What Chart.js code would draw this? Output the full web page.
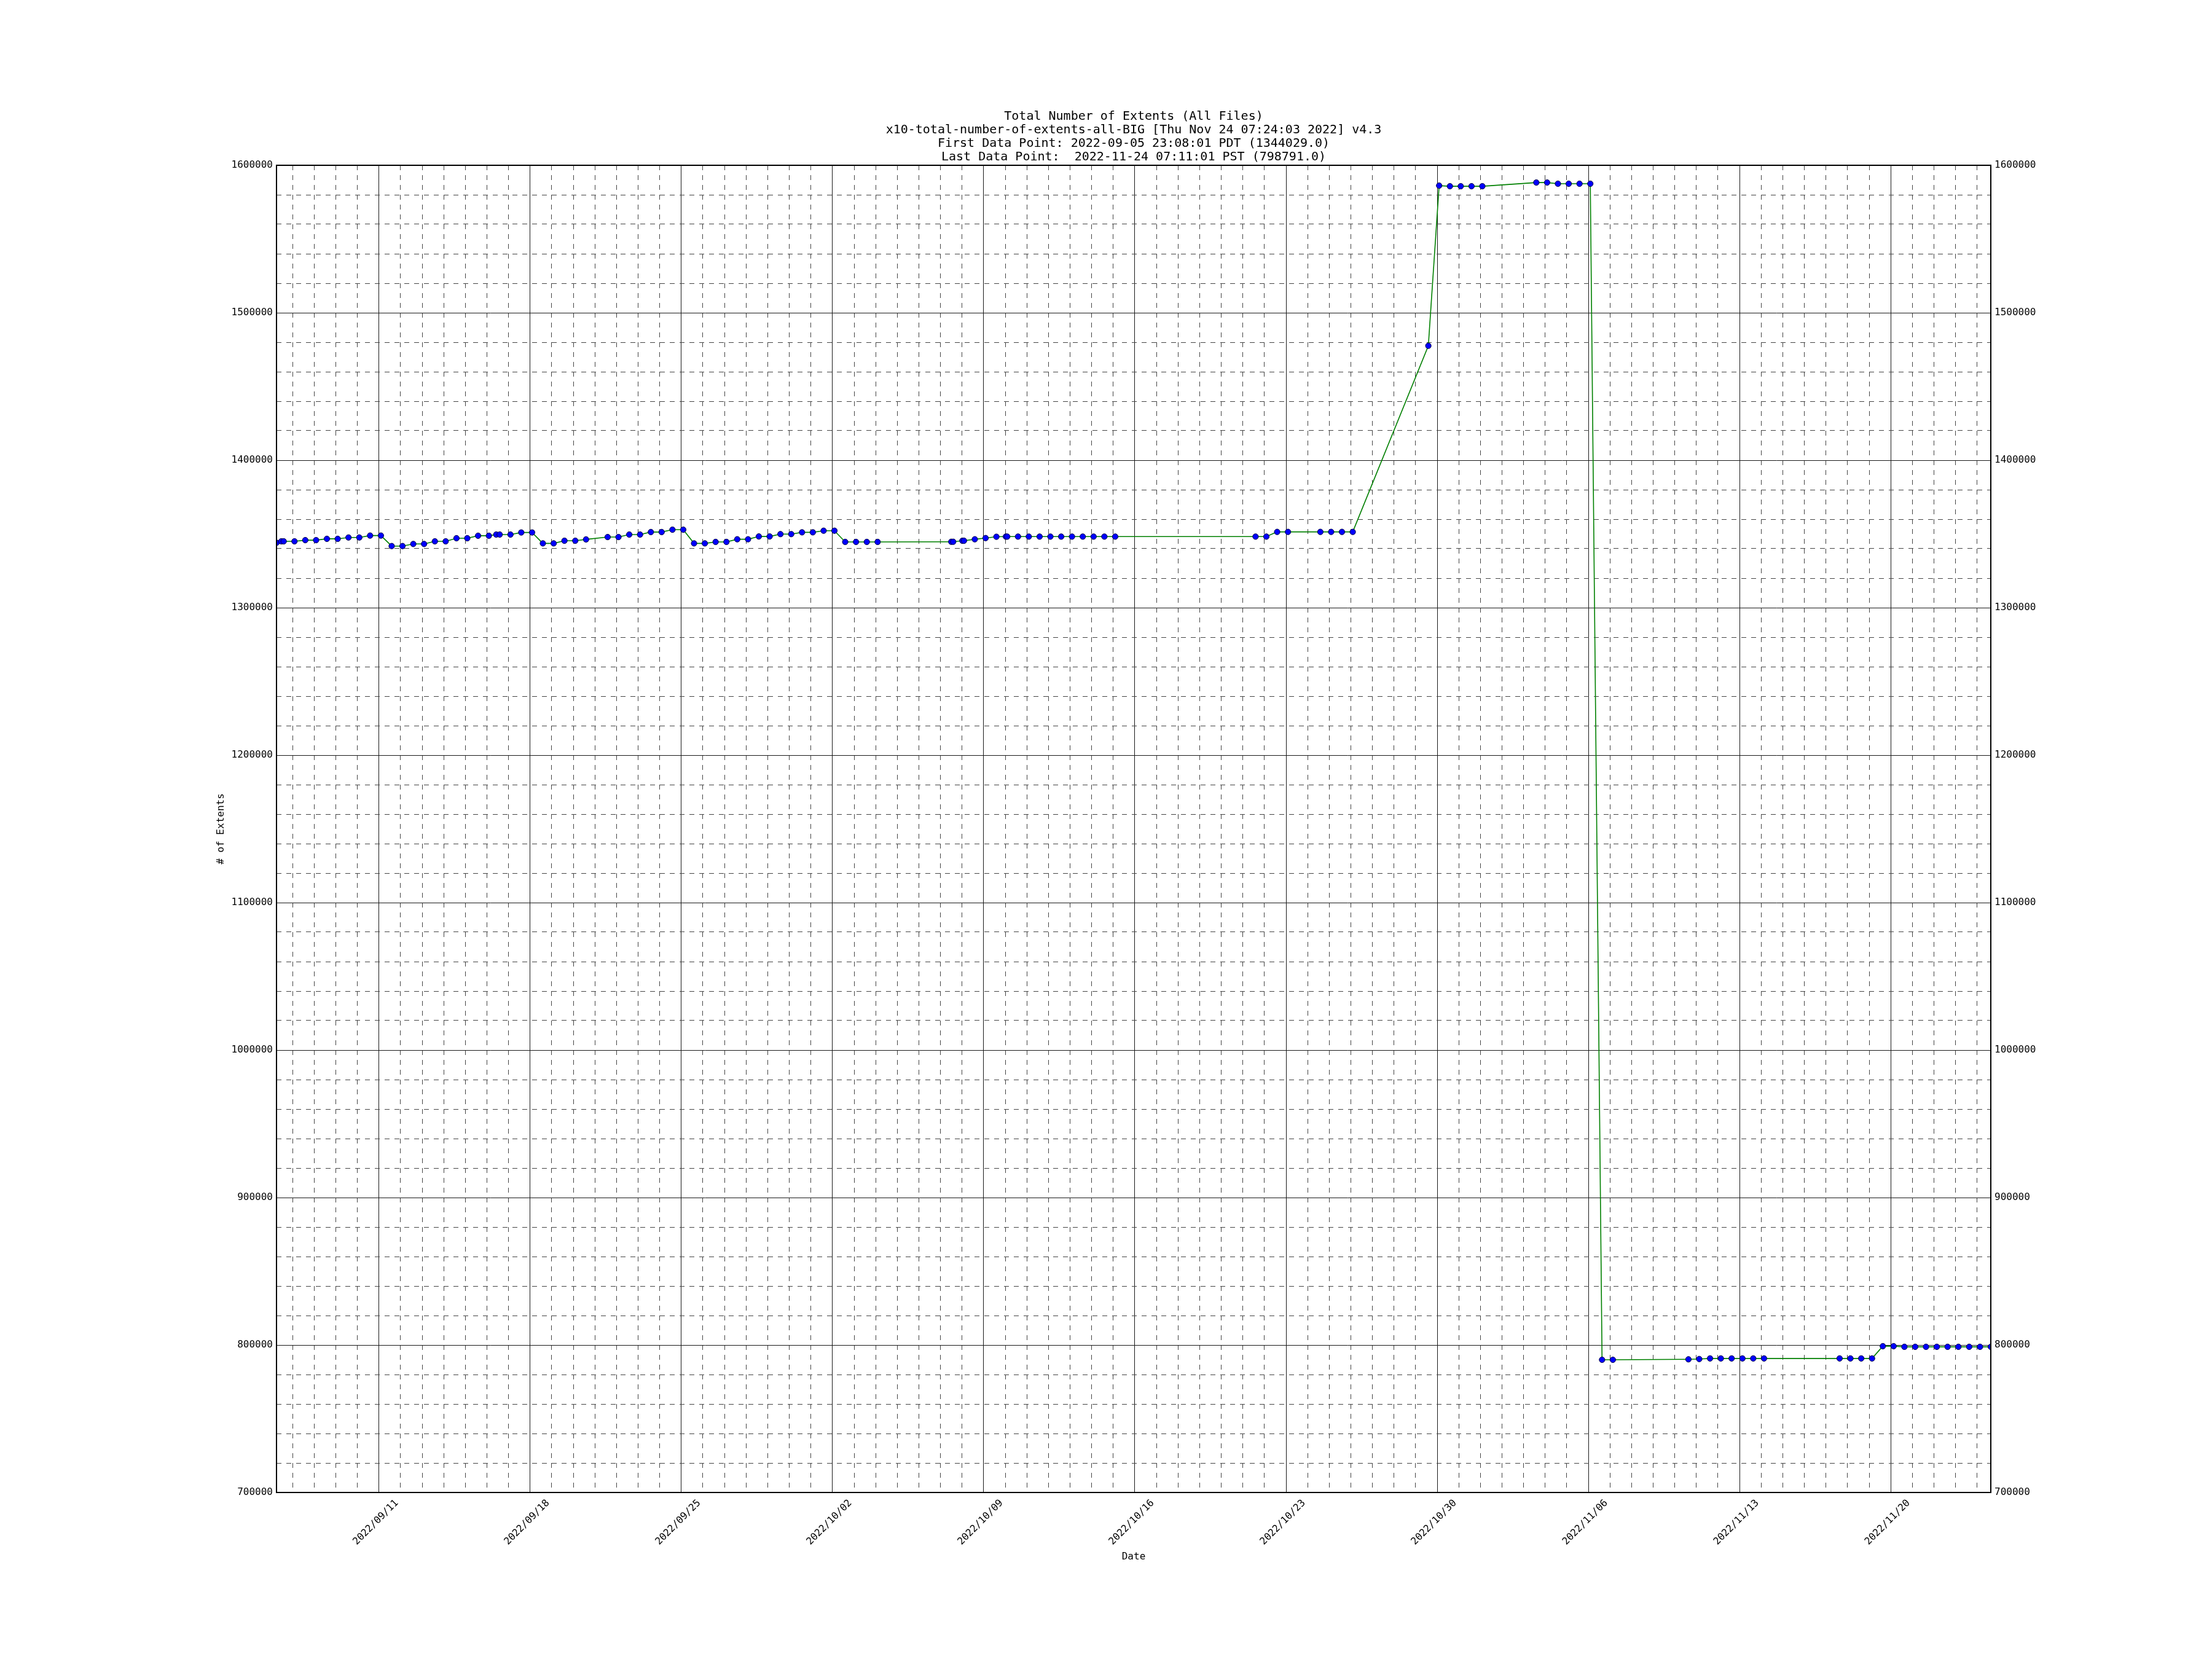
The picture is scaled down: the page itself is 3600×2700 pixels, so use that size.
<!DOCTYPE html>
<html>
<head>
<meta charset="utf-8">
<script src="https://cdn.jsdelivr.net/npm/chart.js@4.4.1/dist/chart.umd.min.js"></script>
<style>
html, body { margin: 0; padding: 0; background: #ffffff; }
canvas { display: block; }
</style>
</head>
<body>
<canvas id="c" width="3600" height="2700"></canvas>
<script>
// ---------------- data ----------------
const titleLines = [
  'Total Number of Extents (All Files)',
  'x10-total-number-of-extents-all-BIG [Thu Nov 24 07:24:03 2022] v4.3',
  'First Data Point: 2022-09-05 23:08:01 PDT (1344029.0)',
  'Last Data Point:  2022-11-24 07:11:01 PST (798791.0)'
];

const sampleTimes = [
  '2022-09-06T06:08:01Z','2022-09-06T11:30:00Z','2022-09-06T14:08:00Z','2022-09-07T02:08:00Z',
  '2022-09-07T14:08:00Z','2022-09-08T02:08:00Z','2022-09-08T14:08:00Z','2022-09-09T02:08:00Z',
  '2022-09-09T14:08:00Z','2022-09-10T02:08:00Z','2022-09-10T14:08:00Z','2022-09-11T02:08:00Z',
  '2022-09-11T14:08:00Z','2022-09-12T02:08:00Z','2022-09-12T14:08:00Z','2022-09-13T02:08:00Z',
  '2022-09-13T14:08:00Z','2022-09-14T02:08:00Z','2022-09-14T14:08:00Z','2022-09-15T02:08:00Z',
  '2022-09-15T14:08:00Z','2022-09-16T02:08:00Z','2022-09-16T10:20:00Z','2022-09-16T14:08:00Z',
  '2022-09-17T02:08:00Z','2022-09-17T14:08:00Z','2022-09-18T02:08:00Z','2022-09-18T14:08:00Z',
  '2022-09-19T02:08:00Z','2022-09-19T14:08:00Z','2022-09-20T02:08:00Z','2022-09-20T14:08:00Z',
  '2022-09-21T14:08:00Z','2022-09-22T02:08:00Z','2022-09-22T14:08:00Z','2022-09-23T02:08:00Z',
  '2022-09-23T14:08:00Z','2022-09-24T02:08:00Z','2022-09-24T14:08:00Z','2022-09-25T02:08:00Z',
  '2022-09-25T14:08:00Z','2022-09-26T02:08:00Z','2022-09-26T14:08:00Z','2022-09-27T02:08:00Z',
  '2022-09-27T14:08:00Z','2022-09-28T02:08:00Z','2022-09-28T14:08:00Z','2022-09-29T02:08:00Z',
  '2022-09-29T14:08:00Z','2022-09-30T02:08:00Z','2022-09-30T14:08:00Z','2022-10-01T02:08:00Z',
  '2022-10-01T14:08:00Z','2022-10-02T02:08:00Z','2022-10-02T14:08:00Z','2022-10-03T02:08:00Z',
  '2022-10-03T14:08:00Z','2022-10-04T02:08:00Z','2022-10-07T12:00:00Z','2022-10-07T14:08:00Z',
  '2022-10-08T00:20:00Z','2022-10-08T02:08:00Z','2022-10-08T14:08:00Z','2022-10-09T02:08:00Z',
  '2022-10-09T14:08:00Z','2022-10-10T00:40:00Z','2022-10-10T02:08:00Z','2022-10-10T14:08:00Z',
  '2022-10-11T02:08:00Z','2022-10-11T14:08:00Z','2022-10-12T02:08:00Z','2022-10-12T14:08:00Z',
  '2022-10-13T02:08:00Z','2022-10-13T14:08:00Z','2022-10-14T02:08:00Z','2022-10-14T14:08:00Z',
  '2022-10-15T02:08:00Z','2022-10-21T14:08:00Z','2022-10-22T02:08:00Z','2022-10-22T14:08:00Z',
  '2022-10-23T02:08:00Z','2022-10-24T14:08:00Z','2022-10-25T02:08:00Z','2022-10-25T14:08:00Z',
  '2022-10-26T02:08:00Z','2022-10-29T14:08:00Z','2022-10-30T02:08:00Z','2022-10-30T14:08:00Z',
  '2022-10-31T02:08:00Z','2022-10-31T14:08:00Z','2022-11-01T02:08:00Z','2022-11-03T14:08:00Z',
  '2022-11-04T02:08:00Z','2022-11-04T14:08:00Z','2022-11-05T02:08:00Z','2022-11-05T14:08:00Z',
  '2022-11-06T02:08:00Z','2022-11-06T15:11:00Z','2022-11-07T03:11:00Z','2022-11-10T15:11:00Z',
  '2022-11-11T03:11:00Z','2022-11-11T15:11:00Z','2022-11-12T03:11:00Z','2022-11-12T15:11:00Z',
  '2022-11-13T03:11:00Z','2022-11-13T15:11:00Z','2022-11-14T03:11:00Z','2022-11-17T15:11:00Z',
  '2022-11-18T03:11:00Z','2022-11-18T15:11:00Z','2022-11-19T03:11:00Z','2022-11-19T15:11:00Z',
  '2022-11-20T03:11:00Z','2022-11-20T15:11:00Z','2022-11-21T03:11:00Z','2022-11-21T15:11:00Z',
  '2022-11-22T03:11:00Z','2022-11-22T15:11:00Z','2022-11-23T03:11:00Z','2022-11-23T15:11:00Z',
  '2022-11-24T03:11:00Z','2022-11-24T15:11:01Z'
];

const extentCounts = [
  1344029,1345000,1345000,1345000,
  1345800,1345800,1346700,1346700,
  1347600,1347600,1348900,1348900,
  1341800,1341800,1343200,1343200,
  1345000,1345000,1347100,1347100,
  1348800,1348800,1349600,1349600,
  1349600,1351000,1351000,1343600,
  1343600,1345400,1345400,1346300,
  1347900,1347900,1349600,1349600,
  1351300,1351300,1352900,1352900,
  1343600,1343600,1344600,1344600,
  1346400,1346400,1348300,1348300,
  1349900,1349900,1351100,1351100,
  1352200,1352200,1344600,1344600,
  1344600,1344600,1344700,1344700,
  1345400,1345400,1346400,1347200,
  1348100,1348200,1348200,1348200,
  1348200,1348200,1348200,1348200,
  1348200,1348200,1348200,1348200,
  1348200,1348200,1348200,1351400,
  1351400,1351400,1351400,1351400,
  1351400,1477600,1586200,1585800,
  1585800,1585800,1585800,1588300,
  1588300,1587500,1587500,1587500,
  1587500,790000,790000,790300,
  790500,790900,790900,790900,
  790900,790900,790900,790900,
  790900,790900,790900,799200,
  799200,798800,798800,798800,
  798800,798800,798800,798800,
  798800,798791
];

const weekTickDates = ['2022-09-11','2022-09-18','2022-09-25','2022-10-02','2022-10-09','2022-10-16',
                       '2022-10-23','2022-10-30','2022-11-06','2022-11-13','2022-11-20'];
const weekTickLabels = ['2022/09/11','2022/09/18','2022/09/25','2022/10/02','2022/10/09','2022/10/16',
                        '2022/10/23','2022/10/30','2022/11/06','2022/11/13','2022/11/20'];
const yTickValues = [700000,800000,900000,1000000,1100000,1200000,1300000,1400000,1500000,1600000];
const yMinorStep = 20000;
const xAxisTitle = 'Date';
const yAxisTitle = '# of Extents';

// ---------------- layout / style ----------------
const FONT = "'DejaVu Sans Mono', monospace";
const PLOT = { left: 450, right: 3240, top: 269, bottom: 2429 };
const DAY = 86400000;

const xs = sampleTimes.map(t => Date.parse(t));
const points = xs.map((x, i) => ({ x: x, y: extentCounts[i] }));
const xMin = xs[0], xMax = xs[xs.length - 1];
const yMin = yTickValues[0], yMax = yTickValues[yTickValues.length - 1];
const weekMs = weekTickDates.map(d => Date.parse(d + 'T00:00:00Z'));

const framePlugin = {
  id: 'frame',
  afterDraw(chart) {
    const a = chart.chartArea, ctx = chart.ctx;
    ctx.save();
    ctx.strokeStyle = '#000';
    ctx.lineWidth = 2;
    ctx.strokeRect(a.left, a.top, a.right - a.left, a.bottom - a.top);
    ctx.restore();
  }
};

const tickFont = { family: FONT, size: 16 };

new Chart(document.getElementById('c'), {
  type: 'line',
  data: {
    datasets: [{
      data: points,
      xAxisID: 'x',
      yAxisID: 'y',
      borderColor: '#008000',
      borderWidth: 1.6,
      pointRadius: 4.6,
      pointBackgroundColor: '#0000ff',
      pointBorderColor: '#000040',
      pointBorderWidth: 1,
      tension: 0,
      fill: false
    }]
  },
  options: {
    responsive: false,
    maintainAspectRatio: false,
    animation: false,
    devicePixelRatio: 1,
    layout: { padding: 0 },
    plugins: {
      legend: { display: false },
      tooltip: { enabled: false },
      title: {
        display: true,
        text: titleLines,
        fullSize: false,
        color: '#000',
        font: { family: FONT, size: 20, lineHeight: 1.1, weight: 'normal' },
        padding: { top: 179, bottom: 2 }
      }
    },
    scales: {
      xm: {
        type: 'linear', position: 'bottom', min: xMin, max: xMax,
        afterBuildTicks: s => {
          const t = [];
          for (let v = Math.ceil(xMin / DAY) * DAY; v <= xMax; v += DAY) {
            if (!weekMs.includes(v)) t.push({ value: v });
          }
          s.ticks = t;
        },
        ticks: { display: false },
        grid: { color: '#444', lineWidth: 1, drawTicks: false },
        border: { display: false, dash: [8, 8] },
        afterFit: s => { s.height = 0; }
      },
      x: {
        type: 'linear', position: 'bottom', min: xMin, max: xMax,
        afterBuildTicks: s => { s.ticks = weekMs.map(v => ({ value: v })); },
        ticks: {
          autoSkip: false, minRotation: 45, maxRotation: 45,
          font: tickFont, color: '#000', padding: 8, labelOffset: 29,
          callback: v => { const i = weekMs.indexOf(v); return i >= 0 ? weekTickLabels[i] : ''; }
        },
        grid: { color: '#1a1a1a', lineWidth: 1, drawTicks: false },
        border: { display: false },
        title: { display: true, text: xAxisTitle, color: '#000', font: tickFont, padding: { top: 0, bottom: 157 } },
        afterFit: s => { s.height = 2700 - PLOT.bottom; }
      },
      ym: {
        type: 'linear', position: 'left', min: yMin, max: yMax,
        afterBuildTicks: s => {
          const t = [];
          for (let v = yMin; v <= yMax; v += yMinorStep) {
            if (!yTickValues.includes(v)) t.push({ value: v });
          }
          s.ticks = t;
        },
        ticks: { display: false },
        grid: { color: '#444', lineWidth: 1, drawTicks: false },
        border: { display: false, dash: [8, 8] },
        afterFit: s => { s.width = 0; }
      },
      y: {
        type: 'linear', position: 'left', min: yMin, max: yMax,
        afterBuildTicks: s => { s.ticks = yTickValues.map(v => ({ value: v })); },
        ticks: { font: tickFont, color: '#000', padding: 6, callback: v => String(v) },
        grid: { color: '#1a1a1a', lineWidth: 1, drawTicks: false },
        border: { display: false },
        title: { display: true, text: yAxisTitle, color: '#000', font: tickFont, padding: { top: 350, bottom: 0 } },
        afterFit: s => { s.width = PLOT.left; }
      },
      y2: {
        type: 'linear', position: 'right', min: yMin, max: yMax,
        afterBuildTicks: s => { s.ticks = yTickValues.map(v => ({ value: v })); },
        ticks: { font: tickFont, color: '#000', padding: 6, callback: v => String(v) },
        grid: { display: false, drawTicks: false },
        border: { display: false },
        afterFit: s => { s.width = 3600 - PLOT.right; }
      }
    }
  },
  plugins: [framePlugin]
});
</script>
</body>
</html>
